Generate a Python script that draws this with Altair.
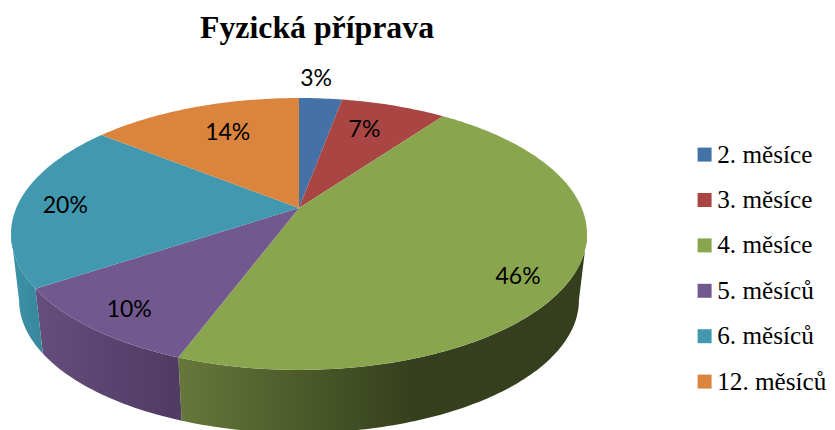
import math
import altair as alt
import pandas as pd

categories = ["2. měsíce", "3. měsíce", "4. měsíce", "5. měsíců", "6. měsíců", "12. měsíců"]
shares = [2.9, 7.1, 45.7, 10, 20, 14.3]
labels = ["3%", "7%", "46%", "10%", "20%", "14%"]
colors = ["#4471A6", "#A94542", "#89A54E", "#71588F", "#4198AF", "#DB843D"]

# Placement of each percentage label relative to its slice's middle (radius fraction, degrees)
label_radius = [1.216, 0.722, 0.851, 0.858, 0.83, 0.70]
label_turn = [-1.7, -2.0, 5.9, -1.0, -1.2, 1.9]

# Perspective of the tilted disc (picture pixels)
CX, TOP_Y, BOTTOM_Y = 299, 208, 274.6
A, B, K = 282.7, 131.0, 0.191
BOTTOM_SCALE_X, BOTTOM_SCALE_Y = 0.972, 0.978
# The side wall shows between the two silhouette points of the disc
WALL_FROM, WALL_TO = 101.0, 259.0


def project(deg, r=1.0, bottom=False):
    a = math.radians(deg)
    u, v = r * math.sin(a), r * math.cos(a)
    den = 1 + K * v
    if bottom:
        return CX + BOTTOM_SCALE_X * A * u / den, BOTTOM_Y - BOTTOM_SCALE_Y * B * v / den
    return CX + A * u / den, TOP_Y - B * v / den


edges = [0.0]
for s in shares:
    edges.append(edges[-1] + s * 3.6)


def arc(a0, a1):
    n = max(2, int(abs(a1 - a0)) + 1)
    return [a0 + (a1 - a0) * i / n for i in range(n + 1)]


top_rows, wall_rows, label_rows = [], {}, []
for i, cat in enumerate(categories):
    a0, a1 = edges[i], edges[i + 1]
    pts = [(CX, TOP_Y)] + [project(a) for a in arc(a0, a1)]
    for j, (x, y) in enumerate(pts):
        top_rows.append({"cat": cat, "o": j, "x": x, "y": y})
    lo, hi = max(a0, WALL_FROM), min(a1, WALL_TO)
    if hi > lo:
        wpts = [project(a) for a in arc(lo, hi)] + [project(a, bottom=True) for a in arc(hi, lo)]
        wall_rows[i] = [{"o": j, "x": x, "y": y} for j, (x, y) in enumerate(wpts)]
    lx, ly = project((a0 + a1) / 2 + label_turn[i], label_radius[i])
    label_rows.append({"t": labels[i], "x": lx, "y": ly})

wall_stops = {
    2: [("#67783B", 0.0), ("#4C5A2A", 0.3), ("#353F1E", 0.58), ("#353F1E", 1.0)],
    3: [("#654E7C", 0.0), ("#56426C", 0.6), ("#503C62", 1.0)],
    4: [("#3D93AA", 0.0), ("#37869B", 1.0)],
}

x_scale = alt.Scale(domain=[8, 827], range=[0, 819], nice=False, zero=False)
y_scale = alt.Scale(domain=[8, 430], range=[0, 422], nice=False, zero=False)
X = alt.X("x:Q", scale=x_scale, axis=None)
Y = alt.Y("y:Q", scale=y_scale, axis=None)

layers = []
for i, rows in wall_rows.items():
    grad = alt.LinearGradient(
        gradient="linear", x1=0, x2=1, y1=0, y2=0,
        stops=[alt.GradientStop(color=c, offset=o) for c, o in wall_stops[i]],
    )
    layers.append(
        alt.Chart(pd.DataFrame(rows))
        .mark_line(filled=True, fill=grad, strokeWidth=0, interpolate="linear")
        .encode(x=X, y=Y, order="o:Q")
    )

layers.append(
    alt.Chart(pd.DataFrame(top_rows))
    .mark_line(filled=True, strokeWidth=0, interpolate="linear")
    .encode(
        x=X, y=Y, order="o:Q", detail="cat:N",
        fill=alt.Fill("cat:N", legend=None,
                      scale=alt.Scale(domain=categories, range=colors)),
    )
)

legend_rows = pd.DataFrame({"cat": categories, "x": [CX] * 6, "y": [TOP_Y] * 6})
layers.append(
    alt.Chart(legend_rows)
    .mark_square(size=0, opacity=0)
    .encode(
        x=X, y=Y,
        color=alt.Color(
            "cat:N",
            scale=alt.Scale(domain=categories, range=colors),
            legend=alt.Legend(
                title=None, orient="none", legendX=684, legendY=134,
                symbolType="square", symbolSize=196, symbolOpacity=1, symbolStrokeWidth=0,
                labelFont="Liberation Serif", labelFontSize=25.2, labelColor="#000000",
                labelOffset=0, rowPadding=19.4, labelLimit=200,
            ),
        ),
    )
)

layers.append(
    alt.Chart(pd.DataFrame(label_rows))
    .mark_text(font="Lato", fontSize=23, color="#000000", align="center", baseline="middle")
    .encode(x=X, y=Y, text="t:N")
)

chart = (
    alt.layer(*layers)
    .resolve_scale(color="independent", fill="independent")
    .properties(
        width=819, height=422,
        padding=0,
        background="#ffffff",
        autosize=alt.AutoSizeParams(type="none"),
        title=alt.TitleParams(
            "Fyzická příprava", anchor="start", frame="group", dx=192, dy=3, offset=-34,
            font="Liberation Serif", fontSize=31.8, fontWeight="bold", color="#000000",
        ),
    )
    .configure_view(stroke=None)
)

chart.save("out.html", embed_options={"renderer": "svg", "actions": False})
